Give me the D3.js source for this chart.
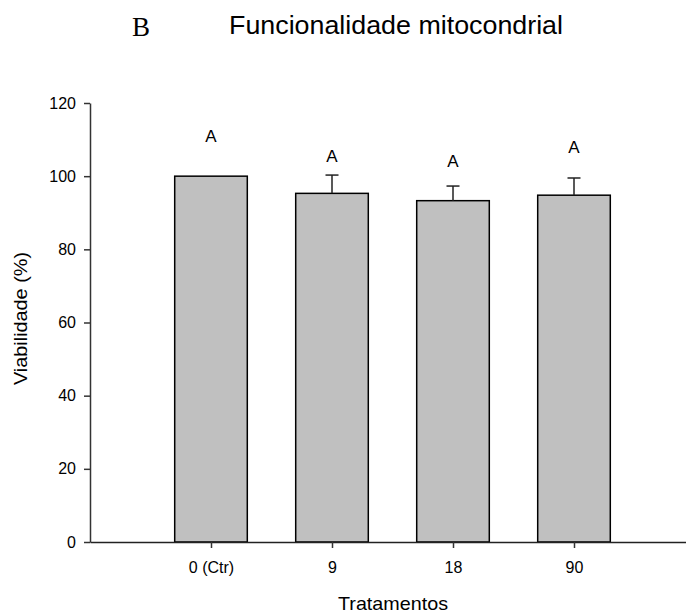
<!DOCTYPE html>
<html>
<head>
<meta charset="utf-8">
<script src="https://cdn.jsdelivr.net/npm/d3@7"></script>
<style>
  html, body { margin: 0; padding: 0; background: #fff; }
  svg { display: block; }
  text { font-family: Arial, "Liberation Sans", sans-serif; fill: #000; }
</style>
</head>
<body>
<svg id="chart" width="686" height="615"></svg>
<script>
// Treatments and mean viability (%) with upper standard error
const categories = ["0 (Ctr)", "9", "18", "90"];
const means = [100, 95.3, 93.3, 94.8];
const errors = [0, 5.0, 4.0, 4.7];
// Significance letters and the height (in % units) at which each is written
const letters = ["A", "A", "A", "A"];
const letterLevels = [109.3, 103.9, 102.5, 106.2];
const yTicks = [0, 20, 40, 60, 80, 100, 120];

const svg = d3.select("#chart");

const x = d3.scalePoint()
  .domain(categories)
  .range([90, 695])
  .padding(1);
const step = x.step();
const barWidth = step * 0.6;

const y = d3.scaleLinear()
  .domain([0, 120])
  .range([542, 103]);

// Bars
svg.append("g")
  .selectAll("rect")
  .data(categories)
  .join("rect")
  .attr("x", d => x(d) - barWidth / 2)
  .attr("y", (d, i) => y(means[i]))
  .attr("width", barWidth)
  .attr("height", (d, i) => y(0) - y(means[i]))
  .attr("fill", "#c0c0c0")
  .attr("stroke", "#000")
  .attr("stroke-width", 1.5);

// Upper error bars
const err = svg.append("g")
  .attr("stroke", "#222")
  .attr("stroke-width", 1.5);
categories.forEach((c, i) => {
  if (errors[i] <= 0) return;
  const cx = x(c);
  err.append("line")
    .attr("x1", cx).attr("x2", cx)
    .attr("y1", y(means[i])).attr("y2", y(means[i] + errors[i]));
  err.append("line")
    .attr("x1", cx - 6.5).attr("x2", cx + 6.5)
    .attr("y1", y(means[i] + errors[i])).attr("y2", y(means[i] + errors[i]));
});

// Significance letters
svg.append("g")
  .selectAll("text")
  .data(categories)
  .join("text")
  .attr("x", d => x(d))
  .attr("y", (d, i) => y(letterLevels[i]))
  .attr("text-anchor", "middle")
  .attr("font-size", 17)
  .text((d, i) => letters[i]);

// Y axis
const yAxis = svg.append("g")
  .attr("transform", "translate(90,0)")
  .call(d3.axisLeft(y).tickValues(yTicks).tickSize(6).tickPadding(8).tickSizeOuter(0));
yAxis.select(".domain").attr("stroke", "#333").attr("stroke-width", 1.5);
yAxis.selectAll(".tick line").attr("stroke", "#333").attr("stroke-width", 1.5);
yAxis.selectAll(".tick text")
  .attr("font-size", 16)
  .attr("font-family", "Arial, 'Liberation Sans', sans-serif")
  .attr("fill", "#000");

// X axis
const xAxis = svg.append("g")
  .attr("transform", `translate(0,${y(0)})`)
  .call(d3.axisBottom(x).tickSize(6).tickPadding(14).tickSizeOuter(0));
xAxis.select(".domain").attr("stroke", "#222").attr("stroke-width", 1.5);
xAxis.selectAll(".tick line").attr("stroke", "#333").attr("stroke-width", 1.5);
xAxis.selectAll(".tick text")
  .attr("font-size", 16)
  .attr("font-family", "Arial, 'Liberation Sans', sans-serif")
  .attr("fill", "#000");

// Axis titles
svg.append("text")
  .attr("x", 393)
  .attr("y", 610)
  .attr("text-anchor", "middle")
  .attr("font-size", 19)
  .attr("textLength", 110)
  .attr("lengthAdjust", "spacingAndGlyphs")
  .text("Tratamentos");

svg.append("text")
  .attr("transform", "translate(27,318.5) rotate(-90)")
  .attr("text-anchor", "middle")
  .attr("font-size", 18)
  .attr("textLength", 133)
  .attr("lengthAdjust", "spacingAndGlyphs")
  .text("Viabilidade (%)");

// Panel letter and title
svg.append("text")
  .attr("x", 141)
  .attr("y", 36)
  .attr("text-anchor", "middle")
  .attr("font-size", 27)
  .style("font-family", "'Liberation Serif', 'Times New Roman', serif")
  .text("B");

svg.append("text")
  .attr("x", 396)
  .attr("y", 34)
  .attr("text-anchor", "middle")
  .attr("font-size", 26)
  .attr("textLength", 334)
  .attr("lengthAdjust", "spacingAndGlyphs")
  .text("Funcionalidade mitocondrial");
</script>
</body>
</html>
